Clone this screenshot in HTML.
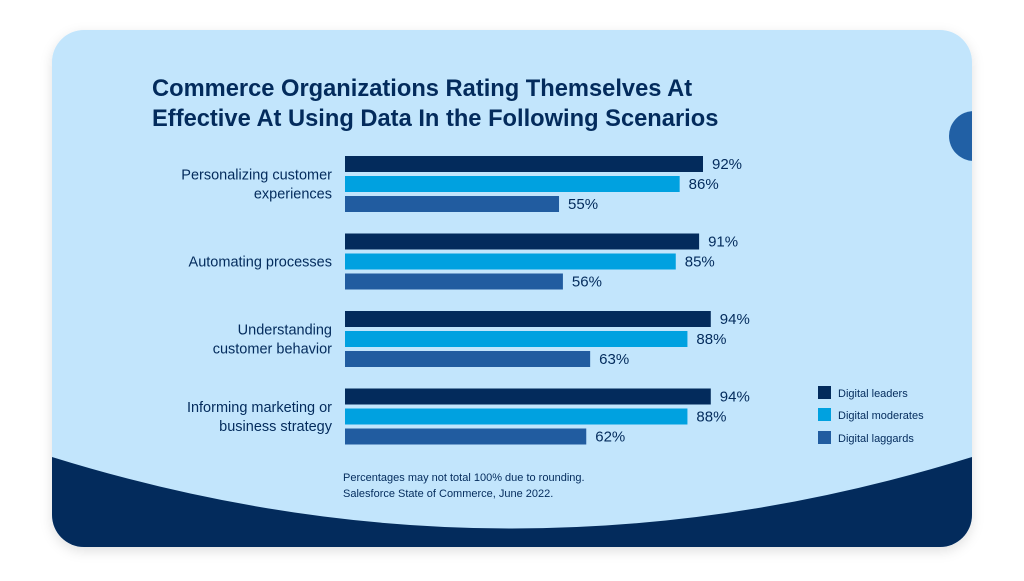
<!DOCTYPE html>
<html><head><meta charset="utf-8"><style>
body{margin:0;width:1024px;height:576px;background:#fff;overflow:hidden;font-family:"Liberation Sans",sans-serif}
</style></head><body>
<svg width="1024" height="576" xmlns="http://www.w3.org/2000/svg">
<defs><clipPath id="card"><rect x="52" y="30" width="920" height="517" rx="32"/></clipPath>
<filter id="sh" x="-5%" y="-5%" width="110%" height="115%"><feDropShadow dx="0" dy="4" stdDeviation="6" flood-color="#000" flood-opacity="0.12"/></filter></defs>
<rect x="52" y="30" width="920" height="517" rx="32" fill="#c2e5fc" filter="url(#sh)"/>
<g clip-path="url(#card)">
<path d="M52 457 Q512 600 972 457 L972 547 L52 547 Z" fill="#032b5c"/>
<circle cx="974" cy="136" r="25" fill="#2160a5"/>
</g>
<text x="152" y="96" font-size="23.7" font-weight="bold" fill="#032b5c"><tspan x="152">Commerce Organizations Rating Themselves At</tspan><tspan x="152" y="126">Effective At Using Data In the Following Scenarios</tspan></text>
<g id="bars"></g>
<g>
<rect x="818" y="386" width="13" height="13" fill="#032b5c"/>
<text x="838" y="397" font-size="11" fill="#032b5c">Digital leaders</text>
<rect x="818" y="408" width="13" height="13" fill="#00a1e0"/>
<text x="838" y="419" font-size="11" fill="#032b5c">Digital moderates</text>
<rect x="818" y="431" width="13" height="13" fill="#215ca0"/>
<text x="838" y="442" font-size="11" fill="#032b5c">Digital laggards</text>
</g>
<text x="343" y="481" font-size="11" fill="#032b5c"><tspan x="343">Percentages may not total 100% due to rounding.</tspan><tspan x="343" y="497">Salesforce State of Commerce, June 2022.</tspan></text>
</svg>
<script>
const categories=[["Personalizing customer","experiences"],["Automating processes"],["Understanding","customer behavior"],["Informing marketing or","business strategy"]];
const leaders=[92,91,94,94];
const moderates=[86,85,88,88];
const laggards=[55,56,63,62];
const ns="http://www.w3.org/2000/svg";
const g=document.getElementById('bars');
const x0=345,pxPer=358/92,g0=164,gStep=77.5,bStep=20,bh=16;
const xs=v=>v*pxPer;
const series=[[leaders,"#032b5c","leaders"],[moderates,"#00a1e0","moderates"],[laggards,"#215ca0","laggards"]];
categories.forEach((c,i)=>{
  const cy=g0+i*gStep;
  const t=document.createElementNS(ns,'text');
  
  
  t.setAttribute('text-anchor','end');t.setAttribute('font-size','14.5');t.setAttribute('fill','#032b5c');
  const lines=c.length;
  c.forEach((l,k)=>{const s=document.createElementNS(ns,'tspan');s.setAttribute('x',332);s.setAttribute('y',cy+20+5+(k-(lines-1)/2)*19);s.textContent=l;t.appendChild(s);});
  g.appendChild(t);
  series.forEach((s,j)=>{
    const y=cy+j*bStep-bh/2,w=xs(s[0][i]);
    const r=document.createElementNS(ns,'rect');
    
    
    r.setAttribute('x',x0);r.setAttribute('y',y);r.setAttribute('width',w);r.setAttribute('height',bh);r.setAttribute('fill',s[1]);
    g.appendChild(r);
    const v=document.createElementNS(ns,'text');
    
    
    v.setAttribute('x',x0+w+9);v.setAttribute('y',y+13);v.setAttribute('font-size','15');v.setAttribute('fill','#032b5c');
    v.textContent=s[0][i]+'%';g.appendChild(v);
  });
});
</script>
</body></html>
